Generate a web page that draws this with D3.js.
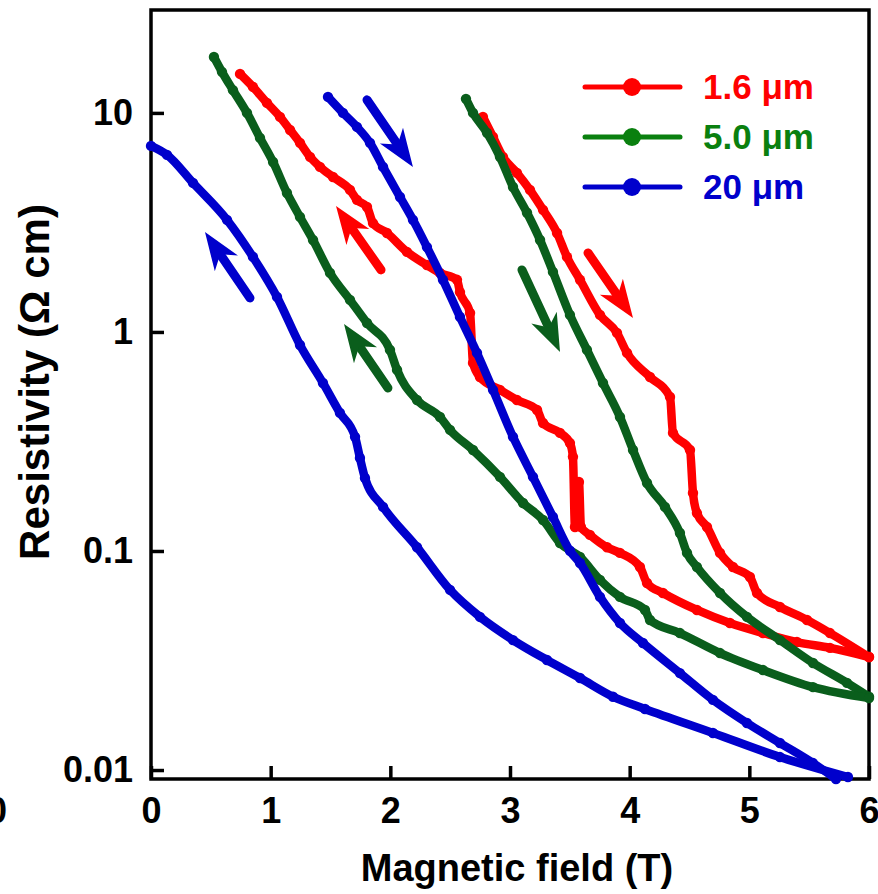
<!DOCTYPE html>
<html><head><meta charset="utf-8">
<script src="https://cdn.jsdelivr.net/npm/d3@7"></script>
<style>
body{margin:0;background:#fff;}
svg{display:block;}
text{font-family:"Liberation Sans",Arial,Helvetica,sans-serif;font-weight:bold;}
</style>
</head><body>
<svg id="chart" width="878" height="894"></svg>
<script>
// ---------- DATA ----------
const seriesNames = ["1.6 \u03BCm", "5.0 \u03BCm", "20 \u03BCm"];

// 1.6 um, increasing-field branch
const redIncB = [2.774,2.858,2.941,3.058,3.167,3.276,3.393,3.476,3.585,3.752,3.894,3.978,4.170,4.337,4.362,4.504,4.529,4.562,4.646,4.755,4.863,5.005,5.064,5.256,5.482,5.674,6.0];
const redIncR = [9.59,7.77,6.30,5.32,4.45,3.61,2.83,2.20,1.73,1.196,0.990,0.802,0.623,0.505,0.346,0.289,0.184,0.149,0.1287,0.098,0.0845,0.0761,0.0643,0.0555,0.0484,0.0422,0.0328];
// 1.6 um, decreasing-field branch
const redDecB = [0.744,0.852,0.969,1.078,1.162,1.245,1.329,1.412,1.521,1.663,1.721,1.805,1.855,1.972,2.139,2.306,2.415,2.557,2.582,2.666,2.691,2.749,2.916,3.058,3.226,3.276,3.418,3.501,3.526,3.543,3.576,3.593,3.668,3.811,3.919,4.086,4.145,4.278,4.562,4.838,5.114,5.398,5.674,6.0];
const redDecR = [15.07,13.14,11.11,9.59,8.36,7.30,6.30,5.67,5.10,4.45,4.01,3.72,3.14,2.83,2.32,2.02,1.86,1.73,1.52,1.22,0.722,0.623,0.544,0.489,0.440,0.384,0.346,0.311,0.269,0.1287,0.2066,0.1287,0.1184,0.104,0.098,0.0845,0.0714,0.0643,0.0538,0.0469,0.0422,0.0384,0.0361,0.0328];

// 5.0 um
const greenIncB = [2.632,2.691,2.808,2.916,3.025,3.142,3.251,3.359,3.501,3.643,3.777,3.919,4.028,4.145,4.295,4.420,4.479,4.562,4.755,4.980,5.256,5.532,5.816,6.0];
const greenIncR = [11.59,10.0,8.11,6.30,4.59,3.50,2.63,1.88,1.196,0.828,0.585,0.409,0.289,0.2044,0.159,0.1208,0.098,0.0845,0.0643,0.050,0.0392,0.0308,0.0250,0.0216];
const greenDecB = [0.526,0.593,0.685,0.802,0.911,1.020,1.136,1.245,1.354,1.496,1.663,1.805,1.997,2.056,2.223,2.415,2.499,2.691,2.916,3.109,3.276,3.418,3.585,3.752,3.919,4.128,4.170,4.420,4.755,5.114,5.532,6.0];
const greenDecR = [18.0,15.4,12.7,10.0,7.69,5.97,4.31,3.35,2.63,1.86,1.40,1.099,0.828,0.671,0.489,0.409,0.357,0.289,0.218,0.1657,0.1385,0.1088,0.0939,0.0738,0.0617,0.0538,0.0484,0.0422,0.0342,0.0286,0.0239,0.0213];

// 20 um
const blueIncB = [1.479,1.604,1.721,1.830,1.939,2.081,2.189,2.306,2.440,2.582,2.724,2.858,3.025,3.192,3.359,3.501,3.585,3.752,3.919,4.111,4.420,4.696,4.980,5.256,5.532,5.724];
const blueIncR = [11.83,10.0,8.63,7.30,5.67,4.13,3.25,2.44,1.73,1.171,0.802,0.544,0.332,0.218,0.143,0.1002,0.0881,0.0617,0.0469,0.0380,0.0277,0.0209,0.0164,0.01328,0.01076,0.0091];
const blueDecB = [0,0.134,0.351,0.635,0.852,1.053,1.245,1.437,1.579,1.705,1.746,1.788,1.939,2.223,2.499,2.749,3.025,3.309,3.585,3.861,4.128,4.696,5.256,5.824];
const blueDecR = [7.07,6.43,4.79,3.25,2.20,1.445,0.872,0.585,0.427,0.332,0.266,0.2155,0.159,0.104,0.0664,0.050,0.0392,0.0318,0.0263,0.0216,0.0190,0.01476,0.01146,0.00929];

// sweep-direction arrows (field T, resistivity Ohm cm)
const arrowSeries = [2, 2, 0, 1, 1, 0];
const arrowFromB = [0.827, 1.805, 1.922, 1.980, 3.100, 3.652];
const arrowFromR = [1.43, 11.47, 1.92, 0.555, 1.92, 2.295];
const arrowToB   = [0.451, 2.189, 1.546, 1.613, 3.418, 4.028];
const arrowToR   = [2.86, 5.67, 3.76, 1.088, 0.810, 1.159];

// axes
const xTicks = [0,1,2,3,4,5,6];
const xTickLabels = ["0","1","2","3","4","5","6"];
const yTicks = [0.01,0.1,1,10];
const yTickLabels = ["0.01","0.1","1","10"];
const xTitle = "Magnetic field (T)";
const yTitle = "Resistivity (\u03A9 cm)";

// ---------- STYLE ----------
const curveColors = ["#ff0000", "#0a5e1c", "#0000cc"];
const legendColors = ["#ff0000", "#0a800f", "#0000cc"];

// ---------- DRAW ----------
const svg = d3.select("#chart");
const x = d3.scaleLinear().domain([0, 6]).range([151, 869]);
const y = d3.scaleLog().domain([0.0091, 29.5]).range([779, 10]);

const zip = (b, r) => b.map((v, i) => [v, r[i]]);
const series = [
  { branches: [zip(redIncB, redIncR), zip(redDecB, redDecR)] },
  { branches: [zip(greenIncB, greenIncR), zip(greenDecB, greenDecR)] },
  { branches: [zip(blueIncB, blueIncR), zip(blueDecB, blueDecR)] }
];

// frame
svg.append("rect")
  .attr("x", x(0)).attr("y", y(29.5))
  .attr("width", x(6) - x(0)).attr("height", y(0.0091) - y(29.5))
  .attr("fill", "none").attr("stroke", "#000").attr("stroke-width", 3.5);

// axes
const xAxis = d3.axisBottom(x).tickValues(xTicks).tickFormat((d, i) => xTickLabels[i])
  .tickSizeInner(-13).tickSizeOuter(0).tickPadding(18);
const yAxis = d3.axisLeft(y).tickValues(yTicks).tickFormat((d, i) => yTickLabels[i])
  .tickSizeInner(-13).tickSizeOuter(0).tickPadding(18);

const gx = svg.append("g").attr("transform", `translate(0,${y(0.0091)})`).call(xAxis);
const gy = svg.append("g").attr("transform", `translate(${x(0)},0)`).call(yAxis);
[gx, gy].forEach(g => {
  g.select(".domain").remove();
  g.selectAll(".tick line").attr("stroke", "#000").attr("stroke-width", 3.5);
  g.selectAll(".tick text").attr("fill", "#000").attr("font-size", 36)
    .attr("font-family", '"Liberation Sans", Arial, sans-serif').attr("font-weight", "bold");
});

// stray clipped label at far left (as in the reference)
svg.append("text").attr("x", 7).attr("y", 823).attr("text-anchor", "end")
  .attr("font-size", 36).text("0");

// axis titles
svg.append("text").attr("x", 517).attr("y", 881).attr("text-anchor", "middle")
  .attr("font-size", 38).text(xTitle);
svg.append("text").attr("transform", "translate(49,382) rotate(-90)")
  .attr("text-anchor", "middle").attr("font-size", 42).text(yTitle);

// curves
const line = d3.line().x(d => x(d[0])).y(d => y(d[1])).curve(d3.curveMonotoneX);
series.forEach((s, si) => {
  const g = svg.append("g");
  s.branches.forEach(br => {
    g.append("path").datum(br).attr("d", line)
      .attr("fill", "none").attr("stroke", curveColors[si])
      .attr("stroke-width", 8.5).attr("stroke-linejoin", "round").attr("stroke-linecap", "round");
    g.selectAll(null).data(br).enter().append("circle")
      .attr("cx", d => x(d[0])).attr("cy", d => y(d[1])).attr("r", 5.2)
      .attr("fill", curveColors[si]);
  });
});

// arrows
arrowSeries.forEach((si, i) => {
  const x0 = x(arrowFromB[i]), y0 = y(arrowFromR[i]);
  const x1 = x(arrowToB[i]), y1 = y(arrowToR[i]);
  const len = Math.hypot(x1 - x0, y1 - y0);
  const ux = (x1 - x0) / len, uy = (y1 - y0) / len;
  const nx = -uy, ny = ux;
  const L = 38, Wd = 14, N = 27;
  const col = curveColors[si];
  svg.append("line")
    .attr("x1", x0).attr("y1", y0)
    .attr("x2", x1 - ux * (N + 2)).attr("y2", y1 - uy * (N + 2))
    .attr("stroke", col).attr("stroke-width", 9).attr("stroke-linecap", "round");
  const pts = [
    [x1, y1],
    [x1 - ux * L + nx * Wd, y1 - uy * L + ny * Wd],
    [x1 - ux * N, y1 - uy * N],
    [x1 - ux * L - nx * Wd, y1 - uy * L - ny * Wd]
  ];
  svg.append("polygon").attr("points", pts.map(p => p.join(",")).join(" ")).attr("fill", col);
});

// legend
const leg = svg.append("g");
seriesNames.forEach((name, i) => {
  const cy = 87 + i * 50;
  leg.append("line").attr("x1", 585).attr("x2", 680).attr("y1", cy).attr("y2", cy)
    .attr("stroke", legendColors[i]).attr("stroke-width", 5).attr("stroke-linecap", "round");
  leg.append("circle").attr("cx", 632).attr("cy", cy).attr("r", 9).attr("fill", legendColors[i]);
  leg.append("text").attr("x", 703).attr("y", cy + 12).attr("font-size", 35)
    .attr("fill", legendColors[i]).text(name);
});
</script>
</body></html>
